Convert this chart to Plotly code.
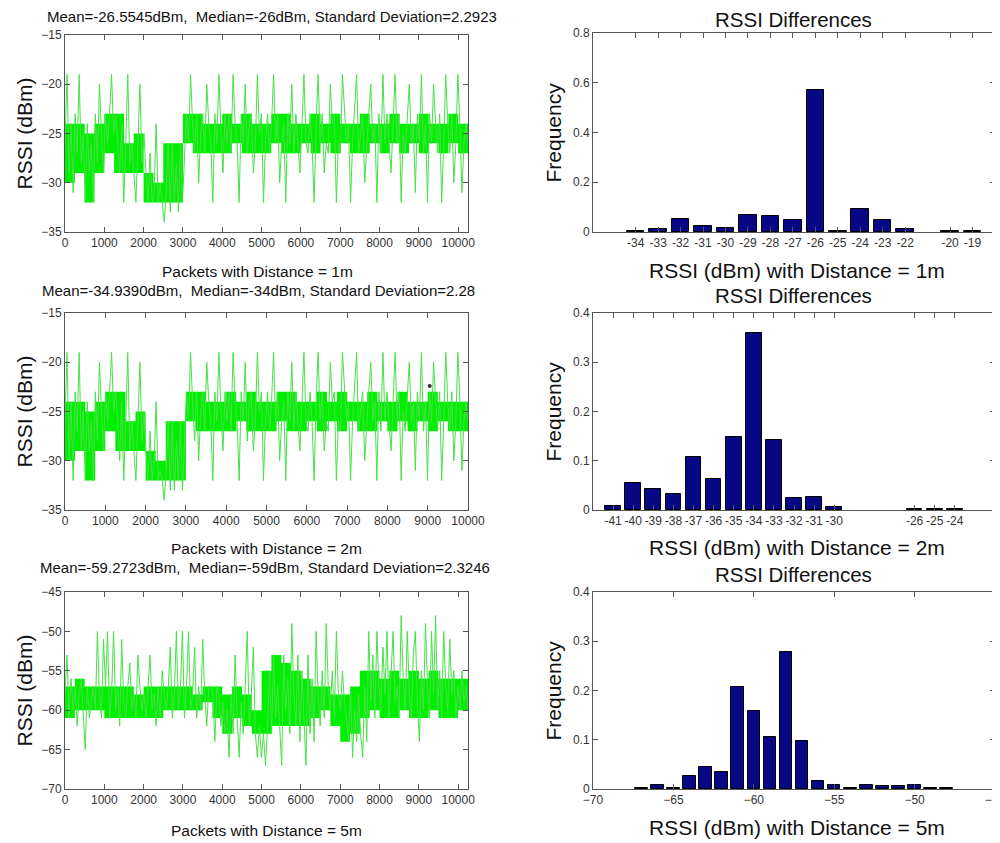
import plotly.graph_objects as go
from plotly.subplots import make_subplots

# ---------------- data ----------------
# sampled RSSI readings (dBm) read from the traces
rssi_1m = [
    -26,-19,-29,-24,-31,-23,-27,-19,-28,-25,-32,-24,-29,-26,-32,-23,-28,-20,-25,-29,
    -23,-26,-23,-19,-25,-23,-26,-29,-24,-32,-26,-19,-28,-26,-29,-32,-26,-20,-28,-25,
    -29,-32,-27,-32,-31,-24,-32,-30,-32,-34,-31,-26,-33,-26,-32,-28,-33,-26,-32,-27,
    -23,-26,-19,-24,-27,-23,-30,-25,-23,-27,-20,-24,-26,-32,-23,-26,-19,-25,-29,-23,
    -26,-23,-27,-19,-24,-26,-32,-23,-26,-20,-27,-24,-23,-29,-26,-19,-25,-23,-32,-26,
    -23,-27,-24,-19,-26,-23,-30,-26,-24,-32,-23,-26,-20,-27,-23,-26,-29,-24,-19,-26,
    -27,-23,-26,-32,-24,-19,-26,-23,-29,-26,-27,-20,-24,-23,-32,-26,-27,-19,-23,-26,
    -24,-32,-26,-23,-19,-27,-25,-23,-30,-26,-23,-20,-26,-24,-32,-23,-27,-19,-26,-23,
    -26,-29,-24,-19,-26,-23,-32,-25,-27,-23,-20,-26,-24,-31,-23,-26,-19,-27,-24,-32,
    -23,-26,-20,-24,-27,-23,-32,-26,-19,-24,-27,-23,-30,-26,-19,-24,-31,-26,-24,-26,
]
rssi_2m = [
    -26,-19,-30,-24,-32,-23,-27,-19,-29,-25,-32,-24,-29,-26,-32,-23,-28,-20,-25,-29,
    -23,-26,-23,-19,-25,-23,-26,-30,-24,-32,-26,-19,-29,-26,-29,-32,-26,-20,-28,-25,
    -29,-32,-27,-32,-30,-24,-32,-31,-32,-34,-31,-26,-33,-26,-33,-28,-32,-26,-33,-27,
    -23,-26,-19,-24,-28,-23,-30,-25,-23,-27,-20,-24,-26,-32,-23,-26,-19,-25,-29,-23,
    -26,-23,-27,-19,-24,-26,-32,-23,-26,-20,-28,-24,-23,-29,-26,-19,-25,-23,-32,-26,
    -23,-27,-24,-19,-26,-23,-30,-26,-24,-32,-23,-26,-20,-27,-23,-26,-29,-24,-19,-26,
    -27,-23,-26,-32,-24,-19,-26,-23,-29,-26,-27,-20,-24,-23,-32,-26,-27,-19,-23,-26,
    -24,-32,-26,-23,-19,-27,-25,-23,-30,-26,-23,-20,-26,-24,-32,-23,-27,-19,-26,-23,
    -26,-29,-24,-19,-26,-23,-32,-25,-27,-23,-20,-26,-24,-31,-23,-26,-19,-27,-24,-32,
    -23,-26,-20,-24,-27,-23,-32,-26,-19,-24,-27,-23,-30,-26,-19,-24,-31,-26,-24,-26,
]
rssi_5m = [
    -58,-53,-61,-56,-60,-57,-62,-58,-56,-60,-65,-57,-61,-59,-57,-60,-50,-58,-61,-51,
    -57,-50,-61,-58,-50,-60,-57,-62,-51,-59,-61,-57,-54,-60,-58,-61,-53,-57,-60,-58,
    -61,-57,-53,-60,-58,-62,-57,-61,-55,-58,-60,-57,-52,-61,-58,-50,-60,-57,-50,-61,
    -57,-50,-60,-58,-52,-61,-57,-60,-51,-58,-62,-57,-57,-58,-64,-57,-58,-62,-59,-63,
    -60,-66,-58,-63,-53,-61,-66,-59,-63,-57,-50,-62,-58,-52,-63,-66,-62,-66,-63,-67,
    -62,-55,-63,-53,-61,-57,-63,-67,-53,-60,-56,-63,-49,-58,-62,-53,-64,-55,-61,-67,
    -53,-63,-56,-64,-50,-58,-62,-55,-61,-49,-57,-60,-55,-61,-50,-58,-60,-55,-59,-61,
    -64,-57,-66,-60,-64,-58,-63,-66,-57,-64,-50,-59,-53,-61,-50,-57,-60,-52,-58,-50,
    -61,-55,-50,-59,-57,-61,-48,-56,-60,-50,-58,-61,-53,-50,-59,-64,-55,-60,-49,-57,
    -61,-50,-58,-48,-60,-55,-61,-50,-57,-60,-51,-58,-55,-61,-57,-60,-55,-59,-57,-60,
]
packets_1m = 10250
packets_2m = 10000
packets_5m = 10250

# dense core band of each trace, per 250-packet block (upper / lower dBm)
band_bin = 250
band_hi_1m = [-24,-24,-25,-24,-23,-23,-26,-25,-29,-30,-26,-26,-23,-23,-24,-24,-23,-24,-23,-24,
              -24,-23,-23,-24,-24,-23,-24,-23,-24,-24,-23,-24,-24,-23,-24,-24,-23,-24,-24,-23,-24]
band_lo_1m = [-30,-29,-32,-29,-27,-29,-29,-29,-32,-32,-32,-32,-26,-27,-27,-27,-27,-26,-27,-27,
              -27,-26,-27,-27,-26,-27,-26,-27,-26,-27,-27,-26,-27,-26,-27,-26,-27,-26,-27,-26,-27]
band_hi_2m = [-24,-24,-25,-24,-23,-23,-26,-25,-29,-30,-26,-26,-23,-23,-24,-24,-23,-24,-23,-24,
              -24,-23,-23,-24,-24,-23,-24,-23,-24,-24,-23,-24,-24,-23,-24,-24,-23,-24,-24,-24]
band_lo_2m = [-30,-29,-32,-29,-27,-29,-29,-29,-32,-32,-32,-32,-26,-27,-27,-27,-27,-26,-27,-27,
              -27,-26,-27,-27,-26,-27,-26,-27,-26,-27,-27,-26,-27,-26,-27,-26,-27,-26,-27,-27]
band_hi_5m = [-57,-56,-57,-57,-57,-57,-57,-58,-57,-57,-57,-57,-57,-58,-57,-57,-58,-57,-58,-60,
              -55,-53,-54,-55,-56,-57,-57,-58,-58,-57,-55,-55,-56,-55,-56,-55,-56,-55,-56,-56,-56]
band_lo_5m = [-61,-60,-60,-60,-61,-61,-61,-61,-61,-61,-60,-60,-60,-60,-59,-61,-63,-61,-62,-63,
              -63,-62,-62,-62,-62,-61,-60,-62,-64,-63,-61,-60,-61,-61,-60,-61,-61,-60,-61,-61,-60]

# isolated dark point visible in the 2m trace panel
dot_x_2m = [9050]
dot_y_2m = [-22.4]

bins_1m = [-34,-33,-32,-31,-30,-29,-28,-27,-26,-25,-24,-23,-22,-20,-19]
freq_1m = [0.005,0.011,0.054,0.026,0.016,0.070,0.064,0.047,0.569,0.005,0.091,0.047,0.011,0.004,0.005]
bins_2m = [-41,-40,-39,-38,-37,-36,-35,-34,-33,-32,-31,-30,-26,-25,-24]
freq_2m = [0.008,0.054,0.043,0.032,0.107,0.062,0.148,0.359,0.142,0.024,0.026,0.007,0.002,0.003,0.002]
bins_5m = [-67,-66,-65,-64,-63,-62,-61,-60,-59,-58,-57,-56,-55,-54,-53,-52,-51,-50,-49,-48]
freq_5m = [0.003,0.009,0.003,0.027,0.045,0.035,0.207,0.158,0.105,0.279,0.097,0.017,0.009,0.003,0.008,0.006,0.006,0.009,0.003,0.003]

stat_titles = [
    "Mean=-26.5545dBm,  Median=-26dBm, Standard Deviation=2.2923",
    "Mean=-34.9390dBm,  Median=-34dBm, Standard Deviation=2.28",
    "Mean=-59.2723dBm,  Median=-59dBm, Standard Deviation=2.3246",
]
packet_titles = ["Packets with Distance = 1m", "Packets with Distance = 2m", "Packets with Distance = 5m"]
hist_xtitles = ["RSSI (dBm) with Distance = 1m", "RSSI (dBm) with Distance = 2m", "RSSI (dBm) with Distance = 5m"]

# ---------------- figure ----------------
# the page body has an 8px margin, so the figure fills the remaining window area
OFF = 8
W, H = 1000 - OFF, 843 - OFF
TICKFONT = dict(family="Liberation Sans Narrow, Arial Narrow, Liberation Sans, Arial", size=12, color="#333")
LABFONT = "Liberation Sans, Arial, sans-serif"
GREEN = "rgb(0,238,0)"
BAR = "rgb(8,8,135)"

fig = make_subplots(rows=3, cols=2)

def px_x(p):
    return (p - OFF) / W

def px_y(p):
    return 1 - (p - OFF) / H

rows_px = [(35, 232), (313, 510), (592, 789)]
right_rows_px = [(33, 232), (313, 510), (592, 789)]
left_dom = [px_x(65), px_x(468)]
right_dom = [px_x(593), px_x(995)]

bands = [(band_hi_1m, band_lo_1m), (band_hi_2m, band_lo_2m), (band_hi_5m, band_lo_5m)]
series = [(rssi_1m, packets_1m), (rssi_2m, packets_2m), (rssi_5m, packets_5m)]
for i, (vals, npk) in enumerate(series):
    hi, lo = bands[i]
    bx = [k * band_bin for k in range(len(hi))] + [npk]
    fig.add_trace(go.Scatter(x=bx, y=lo + [lo[-1]], mode="lines", line=dict(width=0, shape="hv", color=GREEN),
                             showlegend=False, hoverinfo="skip"), row=i + 1, col=1)
    fig.add_trace(go.Scatter(x=bx, y=hi + [hi[-1]], mode="lines", line=dict(width=0, shape="hv", color=GREEN),
                             fill="tonexty", fillcolor=GREEN, showlegend=False, hoverinfo="skip"),
                  row=i + 1, col=1)
    n = len(vals)
    xs = [k * npk / (n - 1) for k in range(n)]
    fig.add_trace(go.Scatter(x=xs, y=vals, mode="lines",
                             line=dict(color="rgb(70,225,70)", width=1), showlegend=False),
                  row=i + 1, col=1)

fig.add_trace(go.Scatter(x=dot_x_2m, y=dot_y_2m, mode="markers",
                         marker=dict(color="#333", size=4), showlegend=False), row=2, col=1)

hists = [(bins_1m, freq_1m), (bins_2m, freq_2m), (bins_5m, freq_5m)]
for i, (b, f) in enumerate(hists):
    fig.add_trace(go.Bar(x=b, y=f, width=0.78, marker=dict(color=BAR, line=dict(color="black", width=1)),
                         showlegend=False),
                  row=i + 1, col=2)

axis_common = dict(showline=True, linecolor="#555", linewidth=1, mirror="ticks",
                   ticks="inside", ticklen=5, tickcolor="#555", showgrid=False,
                   zeroline=False, tickfont=TICKFONT, automargin=False)

left_xranges = [[0, packets_1m], [0, packets_2m], [0, packets_5m]]
left_yranges = [[-35, -15], [-35, -15], [-70, -45]]
xt = list(range(0, 10001, 1000))
for i in range(3):
    t, b = rows_px[i]
    fig.update_xaxes(domain=left_dom, range=left_xranges[i], tickmode="array",
                     tickvals=xt, ticktext=[str(v) for v in xt], row=i + 1, col=1, **axis_common)
    fig.update_yaxes(domain=[px_y(b), px_y(t)], range=left_yranges[i], dtick=5,
                     row=i + 1, col=1, **axis_common)

right_xranges = [[-35.9, -18], [-42, -22], [-70, -45]]
right_yranges = [[0, 0.8], [0, 0.4], [0, 0.4]]
right_ydticks = [0.2, 0.1, 0.1]
for i in range(3):
    t, b = right_rows_px[i]
    if i < 2:
        bx = hists[i][0]
        fig.update_xaxes(domain=right_dom, range=right_xranges[i], tickmode="array",
                         tickvals=bx, ticktext=[str(v) for v in bx],
                         row=i + 1, col=2, **axis_common)
    else:
        fig.update_xaxes(domain=right_dom, range=right_xranges[i], dtick=5,
                         ticklabeloverflow="allow", row=i + 1, col=2, **axis_common)
    fig.update_yaxes(domain=[px_y(b), px_y(t)], range=right_yranges[i], dtick=right_ydticks[i],
                     row=i + 1, col=2, **axis_common)

ann = []
def add_text(text, x, y, size, angle=0):
    ann.append(dict(text=text, x=px_x(x), y=px_y(y), xref="paper", yref="paper",
                    xanchor="center", yanchor="middle", showarrow=False, textangle=angle,
                    borderpad=0, font=dict(family=LABFONT, size=size, color="#111")))

stat_pos = [(272, 16), (258, 290), (265, 567)]
pkt_pos = [(257, 271), (266, 548), (266, 830)]
for i in range(3):
    add_text(stat_titles[i], stat_pos[i][0], stat_pos[i][1], 15)
    add_text(packet_titles[i], pkt_pos[i][0], pkt_pos[i][1], 15.5)
    t, b = rows_px[i]
    add_text("RSSI (dBm)", 24, (t + b) / 2, 21, -90)

hist_title_pos = [(793, 19), (793, 295), (793, 574)]
hist_x_pos = [(797, 270), (797, 547), (797, 827)]
for i in range(3):
    add_text("RSSI Differences", hist_title_pos[i][0], hist_title_pos[i][1], 20.5)
    add_text(hist_xtitles[i], hist_x_pos[i][0], hist_x_pos[i][1], 21)
    t, b = right_rows_px[i]
    add_text("Frequency", 553, (t + b) / 2, 21, -90)

fig.update_layout(width=W, height=H, margin=dict(l=0, r=0, t=0, b=0),
                  plot_bgcolor="white", paper_bgcolor="white",
                  annotations=ann, bargap=0)

fig.write_html("out.html")
